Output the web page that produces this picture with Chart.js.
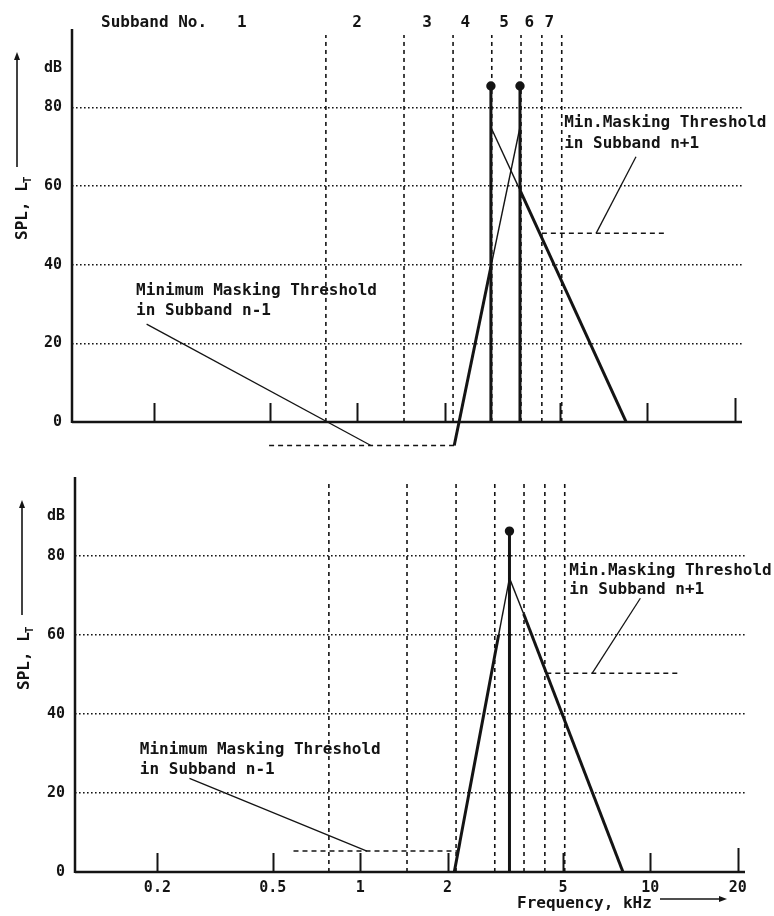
<!DOCTYPE html>
<html>
<head>
<meta charset="utf-8">
<script src="https://cdn.jsdelivr.net/npm/chart.js@4/dist/chart.umd.min.js"></script>
<style>
html,body{margin:0;padding:0;background:#fff;}
#wrap{position:relative;width:774px;height:916px;background:#fff;}
canvas{position:absolute;left:0;}
#c1{top:0;}
#c2{top:460px;}
</style>
</head>
<body>
<div id="wrap">
<canvas id="c1" width="774" height="460"></canvas>
<canvas id="c2" width="774" height="456"></canvas>
</div>
<script>
// ---------- shared axes / subband data ----------
const subbandEdges = [0.78, 1.45, 2.14, 2.91, 3.67, 4.33, 5.07];   // kHz
const subbandNumbers = ['1', '2', '3', '4', '5', '6', '7'];
const subbandNumberFreqs = [0.40, 1.0, 1.74, 2.36, 3.21, 3.92, 4.59];
const freqTicks = [0.2, 0.5, 1, 2, 5, 10, 20];
const freqTickLabels = ['0.2', '0.5', '1', '2', '5', '10', '20'];
const levelTicks = [0, 20, 40, 60, 80, 90];
const levelTickLabels = ['0', '20', '40', '60', '80', 'dB'];
const edgeTopLevel = 98.5;

// ---------- upper panel (two maskers) ----------
const topMaskerFreqs = [2.89, 3.64];
const topMaskerLevels = [85.5, 85.5];
const topRightSlopeFreqs = [2.89, 3.64, 8.45];
const topRightSlopeLevels = [75, 59, 0];
const topLeftSlopeFreqs = [3.64, 2.89, 2.16];
const topLeftSlopeLevels = [75, 39.5, -6];
const topLowerMinFreqs = [0.497, 2.16];
const topLowerMinLevels = [-6, -6];
const topUpperMinFreqs = [4.33, 11.6];
const topUpperMinLevels = [48, 48];
const topLowerLeaderFreqs = [0.188, 1.115];
const topLowerLeaderLevels = [24.9, -6];
const topUpperLeaderFreqs = [9.14, 6.66];
const topUpperLeaderLevels = [67.5, 48];

// ---------- lower panel (one masker) ----------
const botMaskerFreqs = [3.27];
const botMaskerLevels = [86.3];
const botRightSlopeFreqs = [3.27, 3.66, 8.05];
const botRightSlopeLevels = [74.4, 65.3, 0];
const botLeftSlopeFreqs = [3.27, 3.0, 2.11];
const botLeftSlopeLevels = [74.4, 60, 0];
const botLowerMinFreqs = [0.589, 2.18];
const botLowerMinLevels = [5.3, 5.3];
const botUpperMinFreqs = [4.38, 12.7];
const botUpperMinLevels = [50.3, 50.3];
const botLowerLeaderFreqs = [0.258, 1.055];
const botLowerLeaderLevels = [23.7, 5.3];
const botUpperLeaderFreqs = [9.24, 6.3];
const botUpperLeaderLevels = [69.3, 50.3];

// ---------- annotation texts ----------
const lowerNoteLines = ['Minimum Masking Threshold', 'in Subband n-1'];
const upperNoteLines = ['Min.Masking Threshold', 'in Subband n+1'];

const INK = '#141414';
const MONO = '"DejaVu Sans Mono", "Liberation Mono", monospace';
const FREQ_MIN = 0.104, FREQ_MAX = 21.2;

function pts(fs, ls) { return fs.map((f, i) => ({ x: f, y: ls[i] })); }

function lineDs(fs, ls, o) {
  return Object.assign({
    data: pts(fs, ls), showLine: true, borderColor: INK, borderWidth: 1.5,
    pointRadius: 0, tension: 0, fill: false
  }, o || {});
}

function edgeDatasets() {
  return subbandEdges.map(e => lineDs([e, e], [0, edgeTopLevel], { borderWidth: 1.6, borderDash: [4, 4] }));
}

function slopeDs(fs, ls) {
  return lineDs(fs, ls, {
    segment: { borderWidth: c => (c.p0DataIndex === 0 ? 1.4 : 3) }
  });
}

function maskerDs(fs, ls) {
  const data = [];
  fs.forEach((f, i) => { data.push({ x: f, y: 0 }, { x: f, y: ls[i] }, { x: f, y: null }); });
  return {
    data, showLine: true, spanGaps: false, borderColor: INK, borderWidth: 3,
    pointRadius: c => (c.raw && c.raw.y > 0 ? 3.2 : 0),
    pointBackgroundColor: INK, pointBorderColor: INK, tension: 0
  };
}

function decor(p) {
  return {
    id: 'decor',
    afterDatasetsDraw(chart) {
      const ctx = chart.ctx, xs = chart.scales.x, ys = chart.scales.y;
      const ca = chart.chartArea;
      const y0 = ys.getPixelForValue(0);
      ctx.save();
      ctx.strokeStyle = INK; ctx.fillStyle = INK;
      // axes
      ctx.lineWidth = 2.5;
      ctx.beginPath();
      ctx.moveTo(ca.left, ys.getPixelForValue(100));
      ctx.lineTo(ca.left, y0 + 1);
      ctx.moveTo(ca.left, y0);
      ctx.lineTo(ca.right, y0);
      ctx.stroke();
      // upward tick marks
      ctx.lineWidth = 2;
      ctx.beginPath();
      freqTicks.forEach((f, i) => {
        const px = Math.round(xs.getPixelForValue(f)) + 0.5;
        const len = i === freqTicks.length - 1 ? 24 : 19;
        ctx.moveTo(px, y0);
        ctx.lineTo(px, y0 - len);
      });
      ctx.stroke();
      // annotation texts
      ctx.font = 'bold 16px ' + MONO;
      ctx.textAlign = 'left';
      ctx.textBaseline = 'alphabetic';
      p.notes.forEach(n => {
        const x = xs.getPixelForValue(n.freq);
        n.lines.forEach((t, i) => ctx.fillText(t, x, ys.getPixelForValue(n.levels[i])));
      });
      // subband numbering
      if (p.subbands) {
        ctx.fillText('Subband No.', xs.getPixelForValue(0.131), 27);
        ctx.textAlign = 'center';
        subbandNumbers.forEach((s, i) => ctx.fillText(s, xs.getPixelForValue(subbandNumberFreqs[i]), 27));
      }
      // y-axis title with arrow
      const yt = p.yTitle;
      ctx.lineWidth = 1.6;
      ctx.beginPath();
      ctx.moveTo(yt.arrowX, yt.arrowBottom);
      ctx.lineTo(yt.arrowX, yt.arrowTop + 4);
      ctx.stroke();
      ctx.beginPath();
      ctx.moveTo(yt.arrowX, yt.arrowTop);
      ctx.lineTo(yt.arrowX - 3, yt.arrowTop + 8);
      ctx.lineTo(yt.arrowX + 3, yt.arrowTop + 8);
      ctx.closePath();
      ctx.fill();
      ctx.save();
      ctx.translate(yt.baseX, yt.startY);
      ctx.rotate(-Math.PI / 2);
      ctx.textAlign = 'left';
      ctx.font = 'bold 16px ' + MONO;
      ctx.fillText('SPL, L', 0, 0);
      const w = ctx.measureText('SPL, L').width;
      ctx.font = 'bold 11px ' + MONO;
      ctx.fillText('T', w - 1, 4);
      ctx.restore();
      // x-axis title
      if (p.xTitle) {
        const xt = p.xTitle;
        ctx.font = 'bold 16px ' + MONO;
        ctx.textAlign = 'left';
        ctx.fillText('Frequency, kHz', xt.x, xt.y);
        ctx.lineWidth = 1.6;
        ctx.beginPath();
        ctx.moveTo(xt.arrowLeft, xt.arrowY);
        ctx.lineTo(xt.arrowRight - 4, xt.arrowY);
        ctx.stroke();
        ctx.beginPath();
        ctx.moveTo(xt.arrowRight, xt.arrowY);
        ctx.lineTo(xt.arrowRight - 8, xt.arrowY - 3);
        ctx.lineTo(xt.arrowRight - 8, xt.arrowY + 3);
        ctx.closePath();
        ctx.fill();
      }
      ctx.restore();
    }
  };
}

function zeroPad(s) { s.paddingTop = 0; s.paddingBottom = 0; s.paddingLeft = 0; s.paddingRight = 0; }

function makeChart(id, p) {
  return new Chart(document.getElementById(id), {
    type: 'scatter',
    data: { datasets: p.datasets },
    options: {
      responsive: false, animation: false, devicePixelRatio: 1,
      layout: { padding: { left: 0, right: p.padRight, top: p.padTop, bottom: 0 } },
      plugins: { legend: { display: false }, tooltip: { enabled: false } },
      scales: {
        x: {
          type: 'logarithmic', min: FREQ_MIN, max: FREQ_MAX,
          grid: { display: false, drawTicks: false }, border: { display: false },
          afterBuildTicks: s => { s.ticks = freqTicks.map(v => ({ value: v })); },
          afterFit: s => { s.height = p.xHeight; zeroPad(s); },
          ticks: {
            display: p.showXLabels, autoSkip: false, maxRotation: 0, minRotation: 0, padding: 7,
            color: INK, font: { family: MONO, size: 15, weight: 'bold' },
            callback: v => freqTickLabels[freqTicks.indexOf(v)]
          }
        },
        y: {
          min: p.yMin, max: 100,
          afterBuildTicks: s => { s.ticks = levelTicks.map(v => ({ value: v })); },
          afterFit: s => { s.width = p.yWidth; zeroPad(s); },
          grid: {
            drawTicks: false, lineWidth: 1.6,
            color: c => (c.tick && c.tick.value > 0 && c.tick.value < 90 ? INK : 'rgba(0,0,0,0)')
          },
          border: { display: false, dash: [1.6, 2.4] },
          ticks: {
            autoSkip: false, padding: 10, color: INK,
            font: { family: MONO, size: 15, weight: 'bold' },
            callback: v => levelTickLabels[levelTicks.indexOf(v)]
          }
        }
      }
    },
    plugins: [decor(p)]
  });
}

// ---------- upper chart ----------
makeChart('c1', {
  padTop: 29, padRight: 32, xHeight: 6.6, yWidth: 72, yMin: -8, showXLabels: false,
  subbands: true,
  datasets: [
    ...edgeDatasets(),
    lineDs(topLowerMinFreqs, topLowerMinLevels, { borderDash: [5, 4] }),
    lineDs(topUpperMinFreqs, topUpperMinLevels, { borderDash: [5, 4] }),
    lineDs(topLowerLeaderFreqs, topLowerLeaderLevels, { borderWidth: 1.3 }),
    lineDs(topUpperLeaderFreqs, topUpperLeaderLevels, { borderWidth: 1.3 }),
    slopeDs(topRightSlopeFreqs, topRightSlopeLevels),
    slopeDs(topLeftSlopeFreqs, topLeftSlopeLevels),
    maskerDs(topMaskerFreqs, topMaskerLevels)
  ],
  notes: [
    { lines: lowerNoteLines, freq: 0.173, levels: [32.3, 27.2] },
    { lines: upperNoteLines, freq: 5.17, levels: [75.1, 69.7] }
  ],
  yTitle: { arrowX: 17, arrowTop: 52, arrowBottom: 167, baseX: 27, startY: 240 }
});

// ---------- lower chart ----------
makeChart('c2', {
  padTop: 17, padRight: 29, xHeight: 44, yWidth: 75, yMin: 0, showXLabels: true,
  subbands: false,
  datasets: [
    ...edgeDatasets(),
    lineDs(botLowerMinFreqs, botLowerMinLevels, { borderDash: [5, 4] }),
    lineDs(botUpperMinFreqs, botUpperMinLevels, { borderDash: [5, 4] }),
    lineDs(botLowerLeaderFreqs, botLowerLeaderLevels, { borderWidth: 1.3 }),
    lineDs(botUpperLeaderFreqs, botUpperLeaderLevels, { borderWidth: 1.3 }),
    slopeDs(botRightSlopeFreqs, botRightSlopeLevels),
    slopeDs(botLeftSlopeFreqs, botLeftSlopeLevels),
    maskerDs(botMaskerFreqs, botMaskerLevels)
  ],
  notes: [
    { lines: lowerNoteLines, freq: 0.174, levels: [29.9, 24.8] },
    { lines: upperNoteLines, freq: 5.26, levels: [75.2, 70.4] }
  ],
  yTitle: { arrowX: 22, arrowTop: 40, arrowBottom: 155, baseX: 29, startY: 230 },
  xTitle: { x: 517, y: 448, arrowLeft: 660, arrowRight: 727, arrowY: 439 }
});
</script>
</body>
</html>
